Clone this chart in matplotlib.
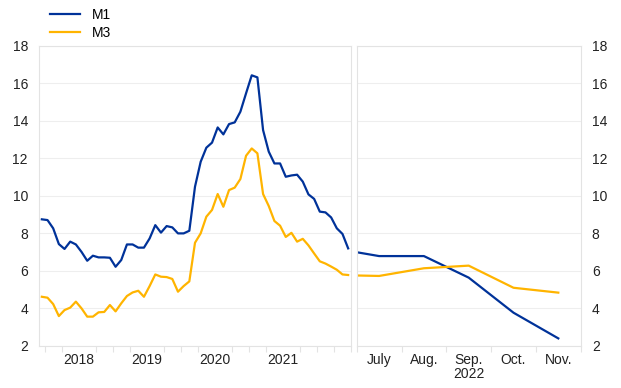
import matplotlib
matplotlib.use("Agg")
import matplotlib.pyplot as plt
import numpy as np

plt.rcParams['font.family'] = ['Liberation Sans', 'DejaVu Sans']

# monthly, Dec 2017 .. Jun 2022
m1_hist = [8.74, 8.70, 8.26, 7.42, 7.16, 7.55, 7.40, 7.00, 6.53, 6.80, 6.71, 6.71,
           6.69, 6.21, 6.57, 7.40, 7.40, 7.23, 7.23, 7.72, 8.43, 8.03, 8.38, 8.31,
           7.99, 7.99, 8.13, 10.48, 11.81, 12.56, 12.83, 13.64, 13.27, 13.82, 13.91, 14.48,
           15.46, 16.42, 16.31, 13.50, 12.35, 11.72, 11.72, 11.01, 11.08, 11.12, 10.75, 10.07,
           9.83, 9.15, 9.11, 8.84, 8.26, 7.96, 7.19]
m3_hist = [4.61, 4.56, 4.22, 3.58, 3.90, 4.03, 4.35, 3.99, 3.55, 3.55, 3.78, 3.80,
           4.17, 3.83, 4.26, 4.65, 4.84, 4.93, 4.61, 5.18, 5.80, 5.68, 5.66, 5.56,
           4.88, 5.18, 5.43, 7.49, 7.99, 8.88, 9.24, 10.09, 9.41, 10.30, 10.43, 10.89,
           12.13, 12.52, 12.26, 10.09, 9.45, 8.65, 8.40, 7.80, 8.02, 7.55, 7.70, 7.35,
           6.92, 6.50, 6.38, 6.22, 6.05, 5.80, 5.77]
years = ['2018', '2019', '2020', '2021']

# Jun 2022 .. Nov 2022
months = ['June', 'July', 'Aug.', 'Sep.', 'Oct.', 'Nov.']
m1_recent = [7.19, 6.78, 6.78, 5.63, 3.76, 2.39]
m3_recent = [5.77, 5.72, 6.13, 6.27, 5.09, 4.83]

blue = '#003299'
yellow = '#ffb400'
frame = '#e3e3e3'

fig = plt.figure(figsize=(6.21, 3.88), dpi=100)
ax1 = fig.add_axes([39/621, 42.3/388, 312/621, 300/388])
ax2 = fig.add_axes([356.7/621, 42.3/388, 224/621, 300/388])

x1 = np.arange(len(m1_hist))
l1, = ax1.plot(x1, m1_hist, color=blue, lw=1.6)
l3, = ax1.plot(x1, m3_hist, color=yellow, lw=1.6)
ax1.set_xlim(-0.5, len(m1_hist) - 0.5)
ax1.set_xticks([6.5 + 12 * k for k in range(len(years))])
ax1.set_xticklabels(years)
ax1.set_xticks(np.arange(0.5, len(m1_hist), 3), minor=True)

x2 = np.arange(len(months))
ax2.plot(x2, m1_recent, color=blue, lw=1.6)
ax2.plot(x2, m3_recent, color=yellow, lw=1.6)
ax2.set_xlim(0.5, len(months) - 0.5)
ax2.set_xticks(x2[1:])
ax2.set_xticklabels(months[1:])
ax2.set_xticks(np.arange(0.5, len(months), 1), minor=True)
ax2.text(3, -0.072, '2022', transform=ax2.get_xaxis_transform(),
         ha='center', va='top', fontsize=10, color='#222222')
ax2.yaxis.tick_right()

for ax in (ax1, ax2):
    ax.set_ylim(2, 18)
    ax.set_yticks(range(2, 19, 2))
    ax.grid(axis='y', color='#eeeeee', lw=0.8)
    ax.set_axisbelow(True)
    for s in ax.spines.values():
        s.set_color(frame)
        s.set_linewidth(0.8)
    ax.tick_params(axis='both', which='major', length=0, labelsize=10,
                   labelcolor='#222222', pad=5)
    ax.tick_params(axis='y', pad=8)
    ax.tick_params(axis='x', which='minor', length=4, color=frame, width=0.8)

fig.legend([l1, l3], ['M1', 'M3'], loc='upper left', bbox_to_anchor=(42/621, 1.0),
           frameon=False, fontsize=10, handlelength=2.1, handletextpad=0.9,
           labelspacing=0.25, borderaxespad=0.2)

fig.savefig('out.png', dpi=100)
